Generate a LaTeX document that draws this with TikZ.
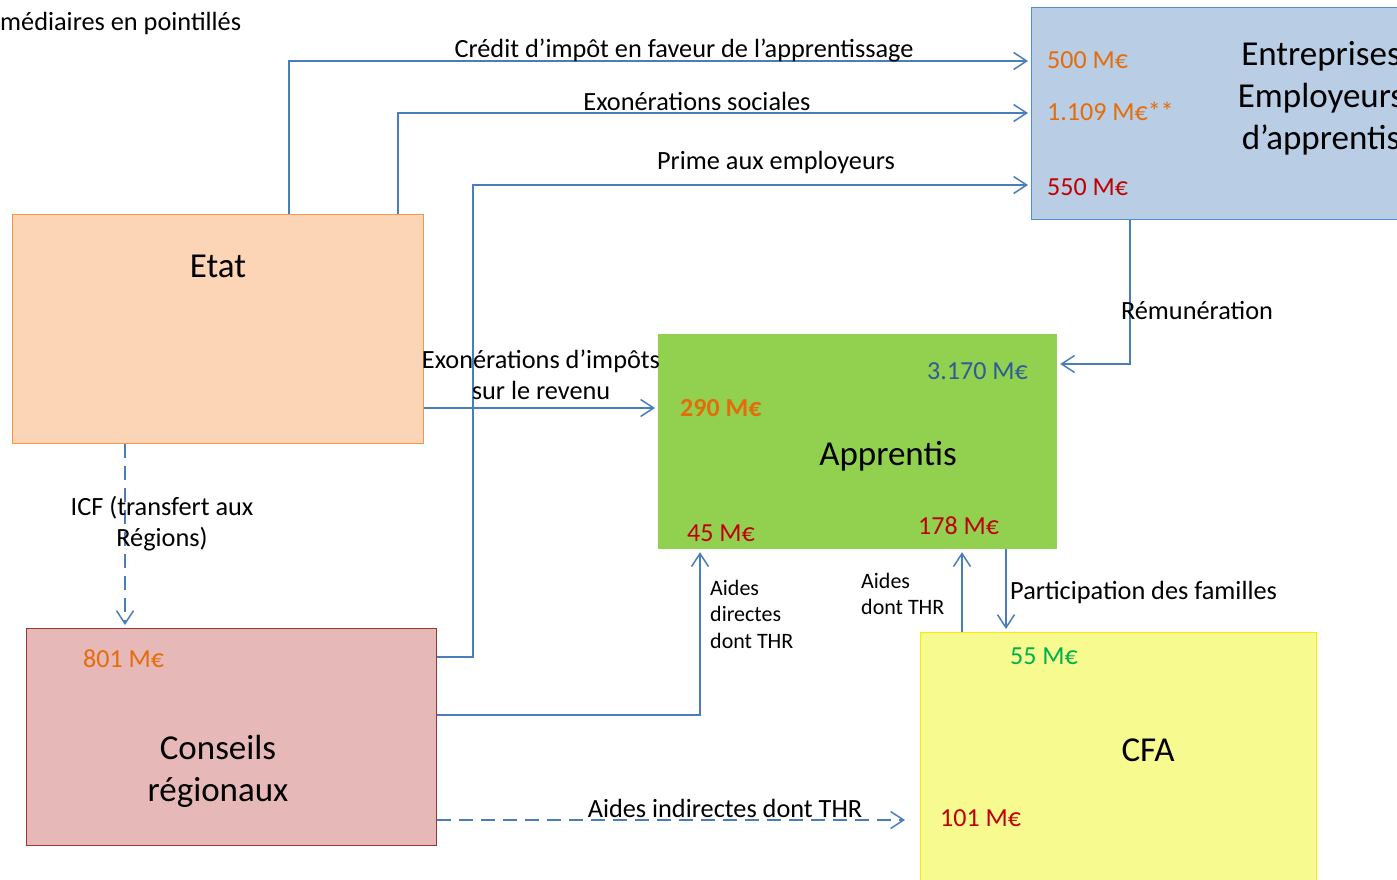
\documentclass[tikz,border=0pt]{standalone}
\usepackage{fontspec}
\setmainfont{Carlito}
\usetikzlibrary{arrows.meta}
\definecolor{fluxblue}{HTML}{4A7EBB}
\definecolor{etatfill}{HTML}{FBD5B5}
\definecolor{etatline}{HTML}{F79646}
\definecolor{entfill}{HTML}{B9CDE5}
\definecolor{entline}{HTML}{4F8FD0}
\definecolor{apprfill}{HTML}{92D050}
\definecolor{crfill}{HTML}{E6B9B8}
\definecolor{crline}{HTML}{953735}
\definecolor{cfafill}{HTML}{F7FA8E}
\definecolor{cfaline}{HTML}{F2F200}
\definecolor{valorange}{HTML}{E46C0A}
\definecolor{valred}{HTML}{C00000}
\definecolor{valblue}{HTML}{2E5C99}
\definecolor{valgreen}{HTML}{00B050}
\tikzset{
  box/.style={line width=1.2pt, anchor=north west, inner sep=0pt},
  fluxline/.style={draw=fluxblue, line width=1.5pt, shorten >=3pt,
    -{Straight Barb[length=13pt,width=17pt,line width=1.5pt]}},
  pointille/.style={dash pattern=on 14pt off 8pt},
  lbl/.style={inner sep=0pt, font=\fontsize{26.3}{31}\selectfont},
  petit/.style={inner sep=0pt, font=\fontsize{22}{26.5}\selectfont, align=left, anchor=west},
  grand/.style={inner sep=0pt, font=\fontsize{35}{42}\selectfont, align=center},
  val/.style={inner sep=0pt, font=\fontsize{26}{31}\selectfont, anchor=west},
}
\begin{document}
\begin{tikzpicture}[x=1pt,y=-1pt]
  \useasboundingbox (0,0) rectangle (1397,879);
  \clip (0,0) rectangle (1397,879);
  % boites
  \node[box, fill=etatfill, draw=etatline, minimum width=411pt, minimum height=229pt] (etat) at (12,214) {};
  \node[box, fill=entfill, draw=entline, minimum width=420pt, minimum height=212pt] (entreprises) at (1031,7) {};
  \node[box, fill=apprfill, draw=apprfill, minimum width=398pt, minimum height=214pt] (apprentis) at (658,334) {};
  \node[box, fill=crfill, draw=crline, minimum width=410pt, minimum height=217pt] (conseils) at (26,628) {};
  \node[box, fill=cfafill, draw=cfaline, minimum width=396pt, minimum height=270pt] (cfa) at (920,632) {};
  % titres des boites
  \node[grand] (etatlbl) at (218,266) {Etat};
  \node[grand] (entlbl) at (1321,98) {Entreprises\\Employeurs\\d’apprentis};
  \node[grand] (apprlbl) at (888,456) {Apprentis};
  \node[grand] (crlbl) at (218,771) {Conseils\\régionaux};
  \node[grand] (cfalbl) at (1148,750) {CFA};
  % montants
  \node[val, text=valorange] (v500) at (1047,60) {500 M€};
  \node[val, text=valorange] (v1109) at (1047,111) {1.109 M€**};
  \node[val, text=valred] (v550) at (1047,187) {550 M€};
  \node[val, text=valblue] (v3170) at (927,371) {3.170 M€};
  \node[val, text=valorange, font=\fontsize{26}{31}\selectfont\bfseries] (v290) at (680,408) {290 M€};
  \node[val, text=valred] (v45) at (687,533) {45 M€};
  \node[val, text=valred] (v178) at (918,526) {178 M€};
  \node[val, text=valorange] (v801) at (83,659) {801 M€};
  \node[val, text=valgreen] (v55) at (1010,656) {55 M€};
  \node[val, text=valred] (v101) at (940,818) {101 M€};
  % flux
  \draw[fluxline] (etat.north -| 289,0) |- (entreprises.west |- 0,61);
  \draw[fluxline] (etat.north -| 398,0) |- (entreprises.west |- 0,113);
  \draw[fluxline] (conseils.east |- 0,657) -- ++(36,0) |- (entreprises.west |- 0,185);
  \draw[fluxline] (etat.east |- 0,408) -- (apprentis.west |- 0,408);
  \draw[fluxline, pointille] (etat.south -| 125,0) -- (conseils.north -| 125,0);
  \draw[fluxline] (entreprises.south -| 1130,0) |- (apprentis.east |- 0,364);
  \draw[fluxline] (conseils.east |- 0,715) -| (apprentis.south -| 700,0);
  \draw[fluxline] (cfa.north -| 962,0) -- (apprentis.south -| 962,0);
  \draw[fluxline] (apprentis.south -| 1006,0) -- (cfa.north -| 1006,0);
  \draw[fluxline, pointille, shorten >=15pt] (conseils.east |- 0,820) -- (cfa.west |- 0,820);
  % libelles
  \node[lbl, anchor=west] (note) at (0,23) {médiaires en pointillés};
  \node[lbl] (credit) at (684,50) {Crédit d’impôt en faveur de l’apprentissage};
  \node[lbl] (exsoc) at (697,101) {Exonérations sociales};
  \node[lbl] (prime) at (776,162) {Prime aux employeurs};
  \node[lbl, align=center] (eximp) at (541,375) {Exonérations d’impôts\\sur le revenu};
  \node[lbl, align=center] (icf) at (162,524) {ICF (transfert aux\\Régions)};
  \node[lbl] (remu) at (1197,310) {Rémunération};
  \node[petit] (aidesdir) at (710,614) {Aides\\directes\\dont THR};
  \node[petit] (aides) at (861,594) {Aides\\dont THR};
  \node[lbl, anchor=west] (partic) at (1010,592) {Participation des familles};
  \node[lbl] (aidesind) at (725,808) {Aides indirectes dont THR};
\end{tikzpicture}
\end{document}
